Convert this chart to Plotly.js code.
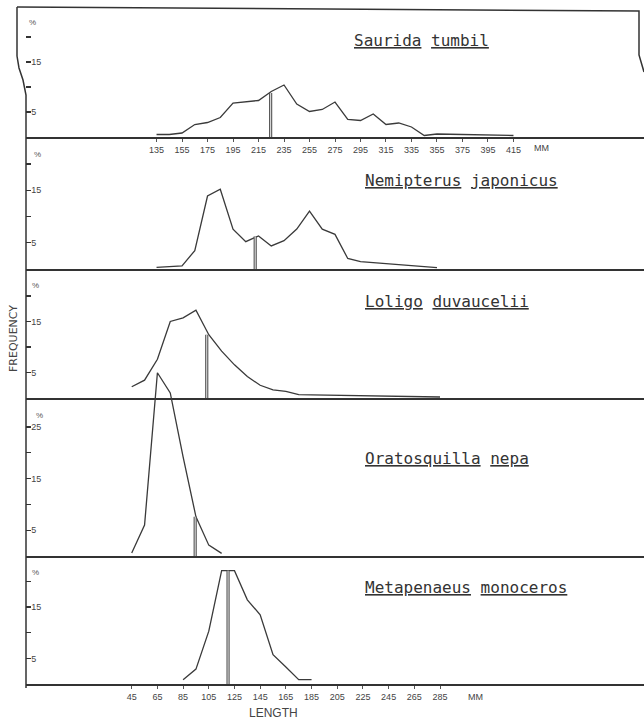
<!DOCTYPE html>
<html><head><meta charset="utf-8">
<script src="https://cdn.plot.ly/plotly-3.0.1.min.js"></script>
<style>html,body{margin:0;padding:0;background:#fff}#chart{width:644px;height:719px}</style>
</head><body><div id="chart"></div>
<script>
// ---- data (length in mm, frequency in %) ----
const sauridaLength = [135,145,155,165,175,185,195,205,215,225,235,245,255,265,275,285,295,305,315,325,335,345,355,365,375,385,395,405,415];
const sauridaFreq   = [0.5,0.5,0.8,2.5,2.9,3.9,6.8,7.0,7.3,9.1,10.4,6.6,5.1,5.5,7.0,3.5,3.3,4.6,2.5,2.8,2.0,0.3,0.6,0.55,0.5,0.45,0.4,0.4,0.3];
const nemipterusLength = [135,145,155,165,175,185,195,205,215,225,235,245,255,265,275,285,295,305,315,325,335,345,355];
const nemipterusFreq   = [0.3,0.45,0.6,3.5,13.9,15.2,7.6,5.2,6.3,4.4,5.4,7.6,11.0,7.6,6.6,2.0,1.4,1.2,1.0,0.8,0.65,0.45,0.25];
const loligoLength = [45,55,65,75,85,95,105,115,125,135,145,155,165,175,185,195,205,215,225,235,245,255,265,275,285];
const loligoFreq   = [2.2,3.5,7.6,15.0,15.7,17.2,12.4,9.2,6.5,4.2,2.5,1.6,1.3,0.65,0.6,0.55,0.5,0.5,0.45,0.4,0.35,0.3,0.3,0.25,0.2];
const oratosquillaLength = [45,55,65,75,85,95,105,115];
const oratosquillaFreq   = [0.6,6.0,35.5,31.6,19.2,7.6,2.1,0.5];
const metapenaeusLength = [85,95,105,115,125,135,145,155,165,175,185];
const metapenaeusFreq   = [0.85,2.9,10.3,22.1,22.1,16.4,13.5,5.7,3.3,0.85,0.85];
const speciesTitles = ['<u>Saurida</u> <u>tumbil</u>','<u>Nemipterus</u> <u>japonicus</u>','<u>Loligo</u> <u>duvaucelii</u>','<u>Oratosquilla</u> <u>nepa</u>','<u>Metapenaeus</u> <u>monoceros</u>'];
const meanLength = [224.5, 212.4, 103.4, 94.4, 120];
const meanFreq   = [8.8, 6.2, 12.4, 7.6, 22.1];
const topTickVals = [135,155,175,195,215,235,255,275,295,315,335,355,375,395,415];
const bottomTickVals = [45,65,85,105,125,145,165,185,205,225,245,265,285];
const freqTicks = [5,10,15,20];
const freqTicksLabels = ['5','','15',''];
const freqTicks4 = [5,10,15,20,25];
const freqTicks4Labels = ['5','','15','','25'];

// ---- geometry helpers (pixel -> paper) ----
const L = 26, W = 618, B = 684, H = 677;
const fx = p => (p - L) / W;
const fy = p => (B - p) / H;

const series = [
  [sauridaLength, sauridaFreq],
  [nemipterusLength, nemipterusFreq],
  [loligoLength, loligoFreq],
  [oratosquillaLength, oratosquillaFreq],
  [metapenaeusLength, metapenaeusFreq]
];
const ax = i => (i === 0 ? '' : String(i + 1));
const ink = '#3a3a3a';

const traces = [];
series.forEach((s, i) => {
  traces.push({x: s[0], y: s[1], xaxis: 'x' + ax(i), yaxis: 'y' + ax(i), mode: 'lines',
    line: {color: ink, width: 1.3}, hoverinfo: 'skip', showlegend: false});
  traces.push({x: [meanLength[i], meanLength[i]], y: [0, meanFreq[i]], xaxis: 'x' + ax(i), yaxis: 'y' + ax(i),
    mode: 'lines', line: {color: '#555', width: 3.2}, hoverinfo: 'skip', showlegend: false});
  traces.push({x: [meanLength[i], meanLength[i]], y: [0, meanFreq[i]], xaxis: 'x' + ax(i), yaxis: 'y' + ax(i),
    mode: 'lines', line: {color: '#e8e8e8', width: 1}, hoverinfo: 'skip', showlegend: false});
});

const tickFont = {family: 'Liberation Sans Narrow, Arial Narrow, sans-serif', size: 9, color: '#444'};
const yDomains = [[fy(137), 1], [fy(269), fy(137)], [fy(398), fy(269)], [fy(556), fy(269)], [0, fy(556)]];
const yRanges = [[0, 26], [0, 25.14], [0, 25.29], [0, 55.6], [0, 24.95]];
const xRangeTop = [32.6, 517.4];
const xRangeBottom = [-37.3, 443.8];

const layout = {
  width: 644, height: 719,
  margin: {l: L, r: 0, t: 7, b: 35},
  paper_bgcolor: '#ffffff', plot_bgcolor: 'rgba(0,0,0,0)',
  showlegend: false,
  annotations: [], shapes: []
};

for (let i = 0; i < 5; i++) {
  const isTop = i < 2;
  const xa = {
    domain: [0, 1], anchor: 'y' + ax(i), range: isTop ? xRangeTop : xRangeBottom,
    showline: true, linecolor: '#333', linewidth: 2, showgrid: false, zeroline: false,
    ticks: '', showticklabels: false, fixedrange: true
  };
  if (i === 0 || i === 4) {
    xa.ticks = 'outside'; xa.ticklen = 3; xa.tickwidth = 1; xa.tickcolor = '#555';
    xa.showticklabels = true; xa.tickmode = 'array';
    xa.tickvals = i === 0 ? topTickVals : bottomTickVals;
    xa.tickfont = tickFont;
  }
  const ya = {
    domain: yDomains[i], anchor: 'x' + ax(i), range: yRanges[i],
    showline: false, showgrid: false, zeroline: false, fixedrange: true,
    ticks: 'inside', ticklen: 5, tickwidth: 1.2, tickcolor: '#333',
    ticklabelposition: 'inside', ticklabelstandoff: -1, tickmode: 'array',
    tickvals: i === 3 ? freqTicks4 : freqTicks,
    ticktext: i === 3 ? freqTicks4Labels : freqTicksLabels,
    tickfont: tickFont
  };
  layout['xaxis' + ax(i)] = xa;
  layout['yaxis' + ax(i)] = ya;
}

// species titles
const titlePos = [[352, 41], [363, 180], [363, 302], [363, 458], [363, 587]];
speciesTitles.forEach((t, i) => {
  layout.annotations.push({text: t, xref: 'paper', yref: 'paper', x: fx(titlePos[i][0]), y: fy(titlePos[i][1]),
    xanchor: 'left', yanchor: 'middle', showarrow: false,
    font: {family: 'DejaVu Sans Mono, monospace', size: 16, color: '#333'}});
});
// percent signs
[[32, 23], [37, 155], [35, 285], [39, 415], [35, 572]].forEach(p => {
  layout.annotations.push({text: '%', xref: 'paper', yref: 'paper', x: fx(p[0]), y: fy(p[1]),
    xanchor: 'center', yanchor: 'middle', showarrow: false,
    font: {family: 'Liberation Sans Narrow, sans-serif', size: 8, color: '#555'}});
});
// units and axis titles
layout.annotations.push({text: 'MM', xref: 'paper', yref: 'paper', x: fx(541), y: fy(148), xanchor: 'center', yanchor: 'middle',
  showarrow: false, font: {family: 'Liberation Sans Narrow, sans-serif', size: 9, color: '#444'}});
layout.annotations.push({text: 'MM', xref: 'paper', yref: 'paper', x: fx(475), y: fy(697), xanchor: 'center', yanchor: 'middle',
  showarrow: false, font: {family: 'Liberation Sans Narrow, sans-serif', size: 9, color: '#444'}});
layout.annotations.push({text: 'LENGTH', xref: 'paper', yref: 'paper', x: fx(273), y: fy(713), xanchor: 'center', yanchor: 'middle',
  showarrow: false, font: {family: 'Liberation Sans, sans-serif', size: 12, color: '#444'}});
layout.annotations.push({text: 'FREQUENCY', xref: 'paper', yref: 'paper', x: fx(13), y: fy(339), xanchor: 'center', yanchor: 'middle',
  textangle: -90, showarrow: false, font: {family: 'DejaVu Sans, sans-serif', size: 11, color: '#444'}});

// frame: left (wavy) edge, top edge, right edge of the sheet
const pth = pts => 'M ' + pts.map(p => fx(p[0]).toFixed(5) + ',' + fy(p[1]).toFixed(5)).join(' L ');
layout.shapes.push({type: 'path', xref: 'paper', yref: 'paper', layer: 'above',
  path: pth([[17, 7], [17, 56], [19, 68], [23, 80], [26, 95], [26, 688]]), line: {color: '#333', width: 1.5}});
layout.shapes.push({type: 'path', xref: 'paper', yref: 'paper', layer: 'above',
  path: pth([[17, 7], [639, 11], [639, 55], [644, 72]]), line: {color: '#333', width: 1.5}});

Plotly.newPlot('chart', traces, layout, {displayModeBar: false, staticPlot: true});
</script></body></html>
